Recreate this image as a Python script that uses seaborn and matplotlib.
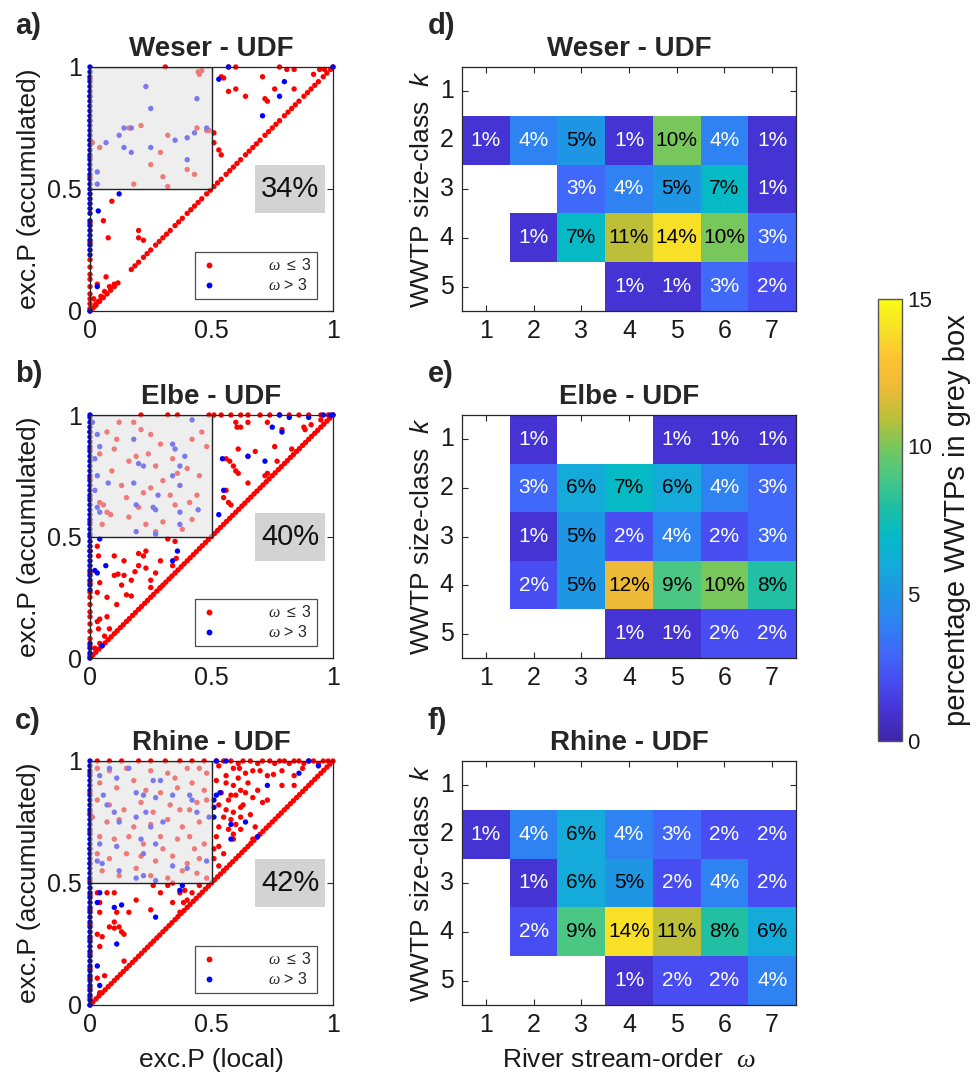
import numpy as np
import pandas as pd
import matplotlib
matplotlib.use('Agg')
import matplotlib.pyplot as plt
import seaborn as sns
from matplotlib.colors import LinearSegmentedColormap
from matplotlib.patches import Rectangle
from matplotlib.lines import Line2D

# ------------------------------------------------------------------ data
rivers = ['Weser', 'Elbe', 'Rhine']
grey_box_share = [34, 40, 42]
stream_order = [1, 2, 3, 4, 5, 6, 7]
size_class = [1, 2, 3, 4, 5]
nan = np.nan

weser_heat = [[nan, nan, nan, nan, nan, nan, nan],
              [1, 4, 5, 1, 10, 4, 1],
              [nan, nan, 3, 4, 5, 7, 1],
              [nan, 1, 7, 11, 14, 10, 3],
              [nan, nan, nan, 1, 1, 3, 2]]
elbe_heat = [[nan, 1, nan, nan, 1, 1, 1],
             [nan, 3, 6, 7, 6, 4, 3],
             [nan, 1, 5, 2, 4, 2, 3],
             [nan, 2, 5, 12, 9, 10, 8],
             [nan, nan, nan, 1, 1, 2, 2]]
rhine_heat = [[nan, nan, nan, nan, nan, nan, nan],
              [1, 4, 6, 4, 3, 2, 2],
              [nan, 1, 6, 5, 2, 4, 2],
              [nan, 2, 9, 14, 11, 8, 6],
              [nan, nan, nan, 1, 2, 2, 4]]

# scatter: (exc.P local, exc.P accumulated)
weser_red = [(0.31, 1.0), (0.445, 0.98), (0.46, 0.985), (0.45, 0.97), (0.57, 1.0), (0.60, 1.0),
             (0.78, 1.0), (0.81, 0.99), (0.84, 0.99), (0.92, 0.97), (0.945, 0.99), (0.965, 0.99),
             (0.54, 0.96), (0.55, 0.955), (0.57, 0.90), (0.60, 0.91), (0.64, 0.88), (0.71, 0.96),
             (0.72, 0.87), (0.73, 0.86), (0.76, 0.91), (0.84, 0.91), (0.48, 0.74), (0.51, 0.73),
             (0.51, 0.69), (0.53, 0.66), (0.54, 0.64),
             (0.04, 0.67), (0.01, 0.69), (0.16, 0.75), (0.21, 0.76), (0.29, 0.65), (0.32, 0.72),
             (0.25, 0.60), (0.30, 0.55), (0.40, 0.58), (0.43, 0.56), (0.18, 0.52), (0.32, 0.51),
             (0.44, 0.75), (0.49, 0.74),
             (0.09, 0.45), (0.055, 0.37), (0.075, 0.30), (0.20, 0.33), (0.20, 0.30), (0.22, 0.29),
             (0.066, 0.14), (0.03, 0.11), (0.015, 0.05), (0.025, 0.03), (0.035, 0.04), (0.02, 0.02),
             (0.045, 0.06), (0.06, 0.08), (0.08, 0.10), (0.10, 0.11)]
weser_blue = [(0.57, 1.0), (0.53, 0.95), (0.80, 0.94), (0.78, 0.88), (0.71, 0.80), (1.0, 1.0),
              (0.23, 0.92), (0.25, 0.83), (0.44, 0.87), (0.066, 0.69), (0.12, 0.72), (0.14, 0.75),
              (0.17, 0.75), (0.14, 0.67), (0.17, 0.65), (0.25, 0.67), (0.35, 0.70), (0.40, 0.71),
              (0.43, 0.73), (0.48, 0.75), (0.40, 0.62), (0.03, 0.57), (0.03, 0.52), (0.12, 0.48),
              (0.034, 0.41), (0.03, 0.10)]
weser_diag_x = [0.0, 0.012, 0.025, 0.04, 0.055, 0.07, 0.085, 0.10, 0.115, 0.17, 0.185, 0.20, 0.22,
                0.235, 0.25, 0.27, 0.285, 0.30, 0.315, 0.33, 0.35, 0.365, 0.38, 0.40, 0.415, 0.43,
                0.445, 0.46, 0.48, 0.495, 0.51, 0.525, 0.54, 0.56, 0.575, 0.59, 0.605, 0.62, 0.64,
                0.655, 0.67, 0.685, 0.70, 0.72, 0.735, 0.75, 0.765, 0.78, 0.80, 0.815, 0.83, 0.845,
                0.86, 0.88, 0.895, 0.91, 0.925, 0.94, 0.96, 0.975, 0.99, 1.0]
weser_axis_red_y = [0.01, 0.03, 0.05, 0.07, 0.10, 0.13, 0.15, 0.18, 0.21, 0.28, 0.36, 0.55, 0.63,
                    0.70, 0.78, 0.88, 0.95]
weser_axis_blue_y = [0.0, 0.23, 0.25, 0.27, 0.29, 0.31, 0.33, 0.35, 0.37, 0.40, 0.42, 0.44, 0.46,
                     0.48, 0.50, 0.52, 0.54, 0.56, 0.58, 0.60, 0.62, 0.64, 0.66, 0.68, 0.70, 0.72,
                     0.74, 0.76, 0.78, 0.80, 0.82, 0.84, 0.86, 0.88, 0.90, 0.92, 0.94, 0.96, 0.98, 1.0]

elbe_red = [(0.21, 1.0), (0.32, 1.0), (0.36, 1.0), (0.49, 1.0), (0.51, 1.0), (0.54, 1.0), (0.58, 1.0),
            (0.62, 1.0), (0.65, 1.0), (0.70, 1.0), (0.74, 1.0), (0.78, 1.0), (0.82, 1.0), (0.86, 1.0),
            (0.90, 1.0), (0.95, 1.0), (0.98, 1.0),
            (0.60, 0.97), (0.605, 0.95), (0.62, 0.95), (0.65, 0.97), (0.73, 0.97), (0.88, 0.95),
            (0.885, 0.94), (0.61, 0.86), (0.65, 0.83), (0.68, 0.85), (0.76, 0.87), (0.77, 0.81),
            (0.79, 0.94), (0.83, 0.86), (0.56, 0.82), (0.575, 0.81), (0.59, 0.79), (0.60, 0.77),
            (0.61, 0.76), (0.56, 0.69), (0.55, 0.66), (0.57, 0.64), (0.58, 0.63), (0.65, 0.72),
            (0.72, 0.75), (0.73, 0.76), (0.91, 0.96), (0.95, 0.98),
            (0.07, 0.93), (0.11, 0.90), (0.18, 0.97), (0.21, 0.94), (0.16, 0.81), (0.19, 0.83),
            (0.25, 0.92), (0.29, 0.88), (0.27, 0.79), (0.24, 0.84), (0.04, 0.84), (0.10, 0.86),
            (0.34, 0.82), (0.40, 0.78), (0.42, 0.90), (0.48, 0.87), (0.45, 0.75), (0.30, 0.73),
            (0.25, 0.70), (0.13, 0.71), (0.15, 0.66), (0.22, 0.68), (0.33, 0.67), (0.35, 0.63),
            (0.41, 0.64), (0.44, 0.67), (0.04, 0.64), (0.055, 0.63), (0.07, 0.60), (0.085, 0.59),
            (0.16, 0.58), (0.23, 0.55), (0.27, 0.52), (0.30, 0.56), (0.42, 0.57), (0.05, 0.55),
            (0.12, 0.97), (0.09, 0.77), (0.36, 0.76), (0.46, 0.93), (0.20, 0.62), (0.38, 0.53),
            (0.10, 0.42), (0.14, 0.40), (0.20, 0.43), (0.22, 0.42), (0.23, 0.44), (0.32, 0.49),
            (0.35, 0.48), (0.03, 0.46), (0.035, 0.42), (0.10, 0.34), (0.115, 0.345), (0.14, 0.34),
            (0.17, 0.32), (0.185, 0.355), (0.23, 0.37), (0.25, 0.32), (0.25, 0.29), (0.29, 0.29),
            (0.27, 0.35), (0.15, 0.26), (0.17, 0.255), (0.07, 0.25), (0.04, 0.31), (0.03, 0.27),
            (0.11, 0.22), (0.04, 0.16), (0.03, 0.15), (0.07, 0.17), (0.035, 0.12), (0.34, 0.38),
            (0.355, 0.41), (0.04, 0.06), (0.02, 0.04), (0.06, 0.09), (0.08, 0.12), (0.20, 0.38),
            (0.29, 0.40), (0.13, 0.30)]
elbe_blue = [(0.78, 1.0), (0.82, 0.99), (0.90, 0.99), (0.96, 1.0), (0.99, 1.0), (1.0, 1.0),
             (0.545, 0.82), (0.65, 0.83), (0.72, 0.81), (0.75, 0.95), (0.79, 0.93), (0.55, 0.69),
             (0.53, 0.59), (0.01, 0.97), (0.03, 0.92), (0.04, 0.87), (0.02, 0.82), (0.03, 0.75),
             (0.02, 0.69), (0.03, 0.62), (0.04, 0.60), (0.18, 0.90), (0.20, 0.80), (0.22, 0.79),
             (0.42, 0.98), (0.34, 0.88), (0.35, 0.86), (0.39, 0.83), (0.37, 0.79), (0.075, 0.72),
             (0.18, 0.72), (0.34, 0.75), (0.37, 0.71), (0.28, 0.67), (0.19, 0.63), (0.26, 0.62),
             (0.27, 0.61), (0.37, 0.60), (0.445, 0.61), (0.37, 0.55), (0.19, 0.52), (0.27, 0.51),
             (0.04, 0.49), (0.065, 0.38), (0.02, 0.36), (0.03, 0.35), (0.36, 0.44), (0.34, 0.40),
             (0.05, 0.05)]
elbe_diag_x = [0.0, 0.012, 0.024, 0.037, 0.05, 0.062, 0.075, 0.087, 0.1, 0.112, 0.125, 0.137, 0.15,
               0.162, 0.175, 0.187, 0.2, 0.212, 0.225, 0.237, 0.25, 0.262, 0.275, 0.287, 0.3, 0.312,
               0.325, 0.337, 0.35, 0.362, 0.375, 0.387, 0.4, 0.412, 0.425, 0.437, 0.45, 0.462, 0.475,
               0.487, 0.5, 0.512, 0.525, 0.537, 0.55, 0.562, 0.575, 0.587, 0.6, 0.612, 0.625, 0.637,
               0.65, 0.662, 0.675, 0.687, 0.7, 0.712, 0.725, 0.737, 0.75, 0.762, 0.775, 0.787, 0.8,
               0.812, 0.825, 0.837, 0.85, 0.862, 0.875, 0.887, 0.9, 0.912, 0.925, 0.937, 0.95, 0.962,
               0.975, 0.987, 1.0]
elbe_axis_red_y = [0.01, 0.05, 0.08, 0.11, 0.14, 0.17, 0.19, 0.22, 0.25, 0.27, 0.31, 0.35, 0.44,
                   0.56, 0.66, 0.74, 0.86, 0.93]
elbe_axis_blue_y = [0.0, 0.02, 0.04, 0.06, 0.28, 0.30, 0.32, 0.34, 0.36, 0.38, 0.40, 0.42, 0.44,
                    0.46, 0.48, 0.50, 0.51, 0.53, 0.55, 0.57, 0.59, 0.61, 0.63, 0.65, 0.67, 0.69,
                    0.71, 0.73, 0.75, 0.77, 0.79, 0.81, 0.83, 0.85, 0.87, 0.89, 0.91, 0.93, 0.95,
                    0.97, 0.99, 1.0]

rhine_red = [(0.03, 1.0), (0.08, 1.0), (0.13, 1.0), (0.20, 1.0), (0.25, 1.0), (0.31, 1.0), (0.37, 1.0),
             (0.42, 1.0), (0.47, 1.0), (0.52, 1.0), (0.55, 1.0), (0.58, 1.0), (0.61, 0.99), (0.63, 1.0),
             (0.66, 1.0), (0.69, 0.99), (0.71, 1.0), (0.74, 1.0), (0.76, 0.99), (0.78, 1.0), (0.80, 1.0),
             (0.82, 0.99), (0.84, 1.0), (0.86, 1.0), (0.88, 0.99), (0.90, 1.0), (0.92, 1.0), (0.94, 0.99),
             (0.96, 1.0), (0.98, 1.0),
             (0.53, 0.98), (0.59, 0.97), (0.615, 0.97), (0.64, 0.95), (0.67, 0.96), (0.70, 0.96),
             (0.73, 0.94), (0.755, 0.945), (0.79, 0.96), (0.84, 0.94), (0.875, 0.97), (0.52, 0.92),
             (0.56, 0.91), (0.59, 0.90), (0.62, 0.88), (0.58, 0.86), (0.60, 0.86), (0.64, 0.87),
             (0.67, 0.85), (0.71, 0.83), (0.73, 0.84), (0.79, 0.90), (0.84, 0.90), (0.53, 0.82),
             (0.56, 0.80), (0.59, 0.79), (0.62, 0.77), (0.58, 0.76), (0.53, 0.73), (0.52, 0.69),
             (0.53, 0.65), (0.55, 0.62), (0.59, 0.70), (0.62, 0.72), (0.67, 0.68), (0.51, 0.64),
             (0.51, 0.60), (0.53, 0.57), (0.55, 0.55), (0.62, 0.81), (0.66, 0.78), (0.68, 0.73),
             (0.59, 0.68), (0.56, 0.94), (0.48, 0.52), (0.61, 0.93), (0.65, 0.91), (0.57, 0.84),
             (0.63, 0.82), (0.55, 0.77), (0.57, 0.72), (0.60, 0.74), (0.54, 0.87), (0.69, 0.88),
             (0.03, 0.97), (0.08, 0.96), (0.15, 0.97), (0.25, 0.96), (0.32, 0.95), (0.40, 0.97),
             (0.45, 0.97), (0.48, 0.95), (0.04, 0.91), (0.11, 0.89), (0.18, 0.92), (0.23, 0.88),
             (0.29, 0.87), (0.36, 0.89), (0.42, 0.91), (0.47, 0.88), (0.03, 0.84), (0.08, 0.82),
             (0.14, 0.80), (0.21, 0.83), (0.26, 0.79), (0.33, 0.82), (0.37, 0.80), (0.44, 0.83),
             (0.48, 0.84), (0.01, 0.77), (0.07, 0.75), (0.12, 0.76), (0.18, 0.73), (0.25, 0.74),
             (0.32, 0.76), (0.38, 0.73), (0.45, 0.75), (0.04, 0.69), (0.10, 0.68), (0.16, 0.69),
             (0.22, 0.66), (0.29, 0.69), (0.36, 0.68), (0.41, 0.69), (0.47, 0.66), (0.03, 0.62),
             (0.08, 0.60), (0.15, 0.62), (0.21, 0.61), (0.27, 0.59), (0.34, 0.61), (0.40, 0.58),
             (0.45, 0.60), (0.05, 0.55), (0.12, 0.53), (0.19, 0.56), (0.25, 0.53), (0.32, 0.52),
             (0.38, 0.55), (0.44, 0.54), (0.35, 0.93), (0.41, 0.80), (0.30, 0.64), (0.43, 0.64),
             (0.03, 0.46), (0.07, 0.46), (0.10, 0.46), (0.04, 0.42), (0.04, 0.38), (0.08, 0.32),
             (0.10, 0.315), (0.12, 0.32), (0.13, 0.30), (0.14, 0.29), (0.05, 0.28), (0.03, 0.29),
             (0.04, 0.24), (0.14, 0.18), (0.06, 0.12), (0.03, 0.11), (0.04, 0.05), (0.16, 0.38),
             (0.19, 0.43), (0.25, 0.39), (0.29, 0.46), (0.32, 0.49), (0.34, 0.50), (0.37, 0.46),
             (0.40, 0.43), (0.39, 0.47), (0.42, 0.46), (0.45, 0.49), (0.26, 0.49), (0.34, 0.42),
             (0.37, 0.38), (0.385, 0.42), (0.11, 0.38), (0.10, 0.34)]
rhine_blue = [(0.52, 1.0), (0.56, 1.0), (0.90, 1.0), (0.94, 0.98), (0.86, 0.95), (0.52, 0.86),
              (0.535, 0.87), (0.51, 0.81), (0.51, 0.77), (0.58, 0.74), (0.64, 0.75), (0.58, 0.68),
              (0.69, 0.69), (0.73, 0.90), (0.51, 0.84),
              (0.04, 0.94), (0.08, 0.97), (0.16, 0.97), (0.055, 0.86), (0.11, 0.93), (0.19, 0.87),
              (0.22, 0.86), (0.27, 0.85), (0.26, 0.92), (0.29, 0.92), (0.34, 0.86), (0.41, 0.86),
              (0.42, 0.84), (0.07, 0.82), (0.10, 0.79), (0.12, 0.75), (0.19, 0.77), (0.23, 0.79),
              (0.25, 0.73), (0.30, 0.75), (0.44, 0.79), (0.49, 0.77), (0.04, 0.66), (0.11, 0.65),
              (0.21, 0.68), (0.22, 0.62), (0.27, 0.66), (0.34, 0.57), (0.03, 0.59), (0.05, 0.58),
              (0.12, 0.55), (0.19, 0.52), (0.22, 0.53), (0.27, 0.51), (0.40, 0.56), (0.48, 0.59),
              (0.03, 0.42), (0.04, 0.46), (0.10, 0.40), (0.13, 0.41), (0.11, 0.25), (0.03, 0.16),
              (0.27, 0.36), (0.37, 0.47), (0.38, 0.49), (0.04, 0.08)]
rhine_diag_x = [0.0, 0.012, 0.025, 0.037, 0.05, 0.062, 0.075, 0.087, 0.1, 0.112, 0.125, 0.137, 0.15,
                0.162, 0.175, 0.187, 0.2, 0.212, 0.225, 0.237, 0.25, 0.262, 0.275, 0.287, 0.3, 0.312,
                0.325, 0.337, 0.35, 0.362, 0.375, 0.387, 0.4, 0.412, 0.425, 0.437, 0.45, 0.462, 0.475,
                0.487, 0.5, 0.512, 0.525, 0.537, 0.55, 0.562, 0.575, 0.587, 0.6, 0.612, 0.625, 0.637,
                0.65, 0.662, 0.675, 0.687, 0.7, 0.712, 0.725, 0.737, 0.75, 0.762, 0.775, 0.787, 0.8,
                0.812, 0.825, 0.837, 0.85, 0.862, 0.875, 0.887, 0.9, 0.912, 0.925, 0.937, 0.95, 0.962,
                0.975, 0.987, 1.0]
rhine_axis_red_y = [0.03, 0.07, 0.11, 0.15, 0.21, 0.27, 0.33, 0.39, 0.45, 0.51, 0.58, 0.64, 0.71,
                    0.79, 0.87, 0.95]
rhine_axis_blue_y = [0.0, 0.02, 0.04, 0.06, 0.08, 0.10, 0.12, 0.14, 0.16, 0.18, 0.20, 0.22, 0.24,
                     0.26, 0.28, 0.30, 0.32, 0.34, 0.36, 0.38, 0.40, 0.42, 0.44, 0.46, 0.48, 0.50,
                     0.52, 0.54, 0.56, 0.58, 0.60, 0.62, 0.64, 0.66, 0.68, 0.70, 0.72, 0.74, 0.76,
                     0.78, 0.80, 0.82, 0.84, 0.86, 0.88, 0.90, 0.92, 0.94, 0.96, 0.98, 1.0]

# parula-like colormap anchors
parula_pos = [0.0, 0.0667, 0.1333, 0.2, 0.2667, 0.3333, 0.4, 0.4667, 0.5333, 0.6, 0.6667,
              0.7333, 0.8, 0.8667, 0.9333, 1.0]
parula_rgb = [(0.242, 0.150, 0.660), (0.275, 0.200, 0.830), (0.280, 0.300, 0.940),
              (0.250, 0.410, 0.980), (0.180, 0.510, 0.950), (0.120, 0.590, 0.890),
              (0.080, 0.670, 0.860), (0.020, 0.730, 0.770), (0.130, 0.750, 0.640),
              (0.290, 0.780, 0.510), (0.470, 0.780, 0.360), (0.740, 0.750, 0.220),
              (0.930, 0.730, 0.220), (0.990, 0.760, 0.200), (0.970, 0.880, 0.150),
              (0.977, 0.984, 0.081)]

# ------------------------------------------------------------------ style
sns.set_style('white')
plt.rcParams['font.family'] = ['Liberation Sans', 'DejaVu Sans']
plt.rcParams['mathtext.fontset'] = 'custom'
plt.rcParams['mathtext.rm'] = 'Liberation Sans'
plt.rcParams['mathtext.it'] = 'Liberation Serif:italic'
plt.rcParams['mathtext.sf'] = 'Liberation Sans:italic'
AX_COL = '#262626'
TXT_COL = '#1a1a1a'

parula = LinearSegmentedColormap.from_list('parula', list(zip(parula_pos, parula_rgb)))

fig = plt.figure(figsize=(9.77, 10.82), dpi=100)
W, H = 977.0, 1082.0


def fpos(x0, y0, x1, y1):
    return [x0 / W, 1 - y1 / H, (x1 - x0) / W, (y1 - y0) / H]


row_px = [(67, 311), (415, 658), (761, 1005)]
scatter_data = [
    (weser_red, weser_blue, weser_diag_x, weser_axis_red_y, weser_axis_blue_y),
    (elbe_red, elbe_blue, elbe_diag_x, elbe_axis_red_y, elbe_axis_blue_y),
    (rhine_red, rhine_blue, rhine_diag_x, rhine_axis_red_y, rhine_axis_blue_y),
]
heats = [weser_heat, elbe_heat, rhine_heat]
letters_l = ['a)', 'b)', 'c)']
letters_r = ['d)', 'e)', 'f)']
letter_y = [12, 360, 707]

cax = fig.add_axes(fpos(878, 299, 902, 741))
heat_axes = []

for i, river in enumerate(rivers):
    y0, y1 = row_px[i]
    # ---------------- scatter panel
    ax = fig.add_axes(fpos(90, y0, 333, y1))
    red, blue, diag_x, ax_red, ax_blue = scatter_data[i]
    rows = []
    rows += [('le', x, x) for x in diag_x]
    rows += [('le', 0.0, y) for y in ax_red]
    rows += [('le', x, y) for x, y in red]
    rows += [('gt', x, y) for x, y in blue]
    rows += [('gt', 0.0, y) for y in ax_blue]
    df = pd.DataFrame(rows, columns=['grp', 'local', 'accum'])
    sns.scatterplot(data=df, x='local', y='accum', hue='grp',
                    palette={'le': (1, 0, 0), 'gt': (0, 0, 1)},
                    s=15, linewidth=0, legend=False, ax=ax, clip_on=False, zorder=2)
    ax.add_patch(Rectangle((0, 0.5), 0.5, 0.5, facecolor=(0.88, 0.88, 0.88), alpha=0.55,
                           edgecolor='none', zorder=3))
    ax.add_patch(Rectangle((0, 0.5), 0.5, 0.5, fill=False, edgecolor='#222222', lw=1.0, zorder=4))
    ax.add_patch(Rectangle((0.68, 0.40), 0.287, 0.198, facecolor='#d3d3d3', edgecolor='none',
                           zorder=3))
    ax.text(0.8235, 0.499, f'{grey_box_share[i]}%', ha='center', va='center', fontsize=21,
            color='#111111', zorder=5)
    ax.set_xlim(0, 1)
    ax.set_ylim(0, 1)
    ax.set_xticks([0, 0.5, 1])
    ax.set_xticklabels(['0', '0.5', '1'])
    ax.set_yticks([0, 0.5, 1])
    ax.set_yticklabels(['0', '0.5', '1'])
    ax.tick_params(direction='in', top=True, right=True, length=4, width=0.8,
                   labelsize=18, color=AX_COL, labelcolor=TXT_COL, pad=6)
    for sp in ax.spines.values():
        sp.set_visible(True)
        sp.set_color(AX_COL)
        sp.set_linewidth(0.9)
    ax.set_ylabel('exc.P (accumulated)', fontsize=19, color=TXT_COL, labelpad=4)
    ax.set_xlabel('exc.P (local)' if i == 2 else '', fontsize=19, color=TXT_COL, labelpad=8)
    ax.set_title(f'{river} - UDF', fontsize=20, fontweight='bold', pad=8)
    handles = [Line2D([], [], ls='none', marker='o', ms=3.2, color=(1, 0, 0)),
               Line2D([], [], ls='none', marker='o', ms=3.2, color=(0, 0, 1))]
    leg = ax.legend(handles, [r'$\omega$ $\leq$ 3', r'$\omega$ > 3'], loc='lower right',
                    bbox_to_anchor=(0.935, 0.05), fontsize=11.5, frameon=True, fancybox=False,
                    handlelength=1.0, handletextpad=3.2, borderpad=0.35, labelspacing=0.25,
                    borderaxespad=0)
    leg.get_frame().set_edgecolor('#222222')
    leg.get_frame().set_linewidth(0.9)
    leg.set_zorder(6)
    fig.text(15 / W, 1 - letter_y[i] / H, letters_l[i], fontsize=21, fontweight='bold',
             va='top', ha='left')

    # ---------------- heatmap panel
    hx = fig.add_axes(fpos(462, y0, 796, y1))
    heat_axes.append(hx)
    mat = pd.DataFrame(heats[i], index=size_class, columns=stream_order)
    annot = np.array([['' if np.isnan(v) else f'{v:.0f}%' for v in row] for row in heats[i]])
    if i == 0:
        sns.heatmap(mat, ax=hx, cmap=parula, vmin=0, vmax=15, annot=annot, fmt='',
                    annot_kws={'fontsize': 15}, cbar=True, cbar_ax=cax, linewidths=0)
    else:
        sns.heatmap(mat, ax=hx, cmap=parula, vmin=0, vmax=15, annot=annot, fmt='',
                    annot_kws={'fontsize': 15}, cbar=False, linewidths=0)
    for t in hx.texts:
        v = float(t.get_text().rstrip('%'))
        t.set_color('black' if v >= 5 else 'white')
    for sp in hx.spines.values():
        sp.set_visible(True)
        sp.set_color(AX_COL)
        sp.set_linewidth(0.9)
    hx.set_xticklabels([str(s) for s in stream_order], rotation=0)
    hx.set_yticklabels([str(s) for s in size_class], rotation=0)
    hx.tick_params(direction='in', top=True, right=True, bottom=True, left=True, length=4,
                   width=0.8, labelsize=18, color=AX_COL, labelcolor=TXT_COL, pad=6)
    hx.set_ylabel(r'WWTP size-class  $\mathsf{k}$', fontsize=19, color=TXT_COL, labelpad=4)
    hx.set_xlabel(r'River stream-order  $\omega$' if i == 2 else '', fontsize=19,
                  color=TXT_COL, labelpad=8)
    hx.set_title(f'{river} - UDF', fontsize=20, fontweight='bold', pad=8)
    fig.text(428 / W, 1 - letter_y[i] / H, letters_r[i], fontsize=21, fontweight='bold',
             va='top', ha='left')

cb = heat_axes[0].collections[0].colorbar
cb.set_ticks([0, 5, 10, 15])
cb.set_ticklabels(['0', '5', '10', '15'])
cb.ax.tick_params(direction='in', labelsize=16, length=4, color='#444444', labelcolor=TXT_COL)
cb.outline.set_edgecolor('#555555')
cb.outline.set_linewidth(1.0)
cb.set_label('percentage WWTPs in grey box', fontsize=21, color=TXT_COL, labelpad=8)

fig.savefig('out.png', dpi=100)
